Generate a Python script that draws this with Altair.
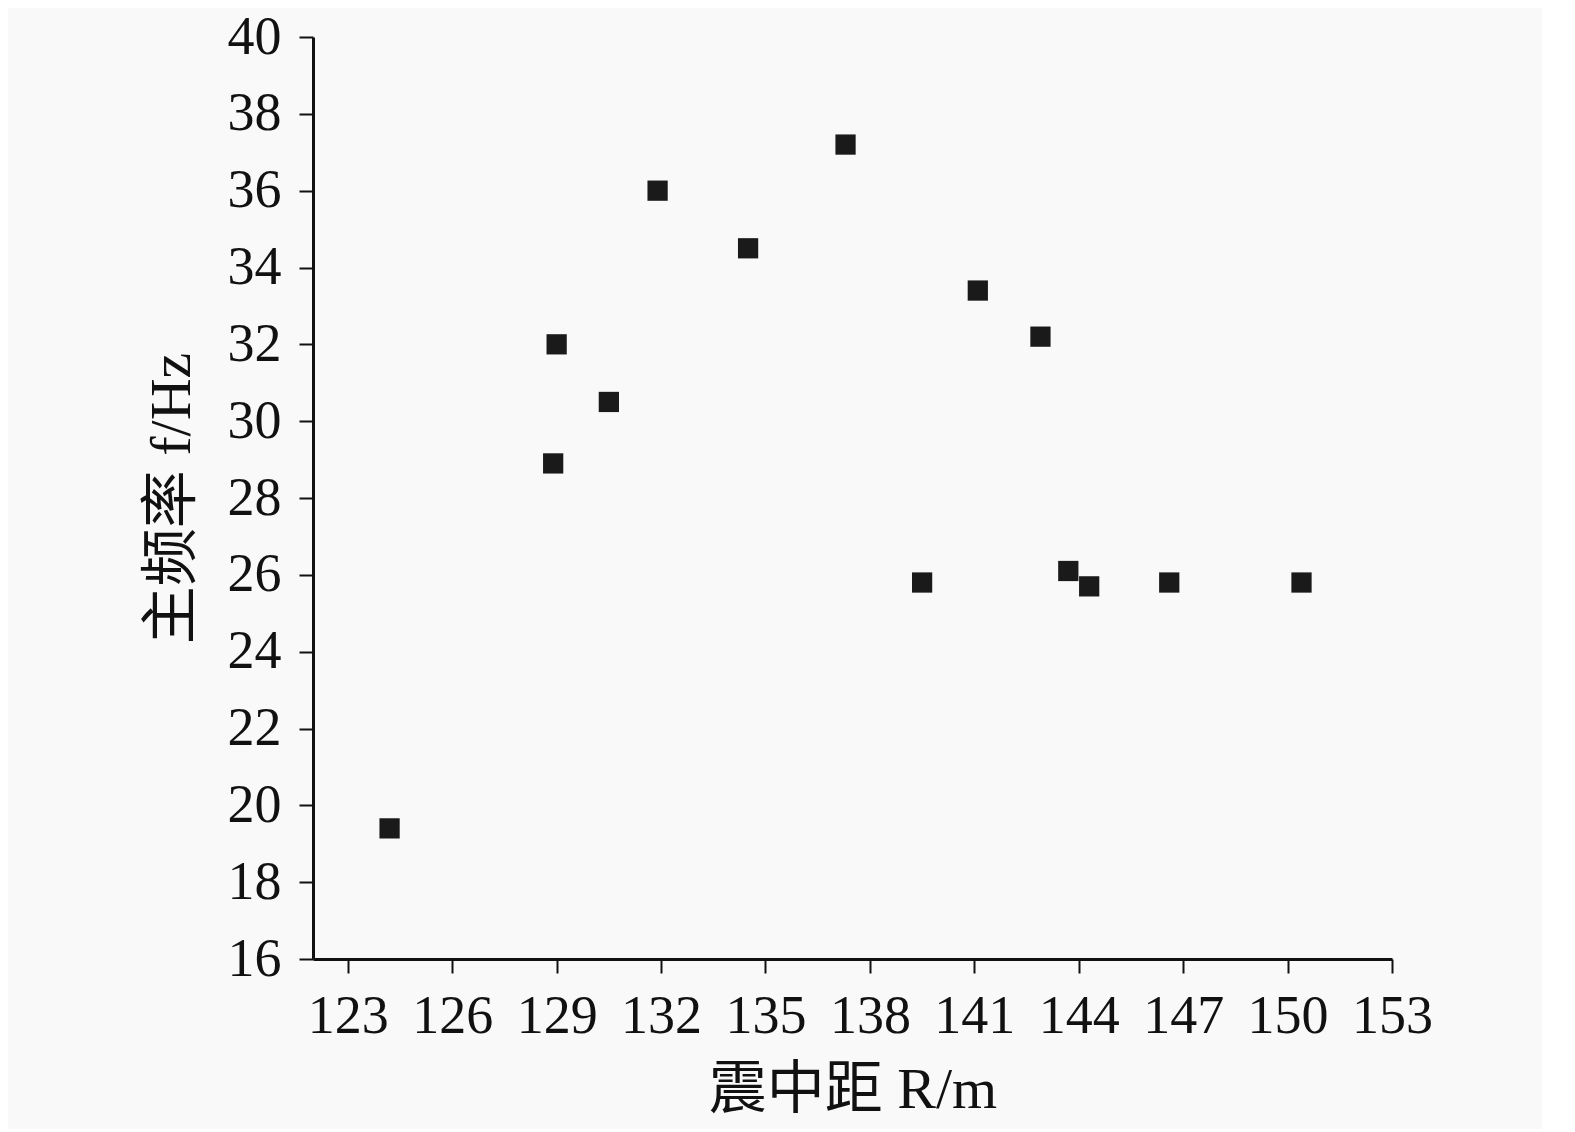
import altair as alt
import pandas as pd

# Epicentral distance R (m) and dominant frequency f (Hz)
distance = [124.2, 128.9, 129.0, 130.5, 131.9, 134.5, 137.3, 139.5,
            141.1, 142.9, 143.7, 144.3, 146.6, 150.4]
frequency = [19.4, 28.9, 32.0, 30.5, 36.0, 34.5, 37.2, 25.8,
             33.4, 32.2, 26.1, 25.7, 25.8, 25.8]

x_ticks = [123, 126, 129, 132, 135, 138, 141, 144, 147, 150, 153]
y_ticks = [16, 18, 20, 22, 24, 26, 28, 30, 32, 34, 36, 38, 40]

df = pd.DataFrame({"R": distance, "f": frequency})

FONT = "Liberation Serif, Noto Sans CJK SC"

chart = alt.Chart(df).mark_point(
    shape="square", filled=True, size=410, color="#1a1a1a", opacity=1
).encode(
    x=alt.X("R:Q",
            scale=alt.Scale(domain=[122, 153], nice=False, zero=False),
            axis=alt.Axis(values=x_ticks, title="震中距 R/m", format="d",
                          labelOverlap=False, labelFlush=False,
                          labelPadding=16, titlePadding=18)),
    y=alt.Y("f:Q",
            scale=alt.Scale(domain=[16, 40], nice=False, zero=False),
            axis=alt.Axis(values=y_ticks, title="主频率 f/Hz", format="d",
                          labelOverlap=False, labelFlush=False,
                          labelPadding=18, titlePadding=26)),
).properties(
    width=1079, height=922,
    autosize=alt.AutoSizeParams(type="none"),
    padding={"left": 305, "top": 29, "right": 150, "bottom": 170},
    background="#f9f9f9",
).configure_view(
    stroke=None
).configure_axis(
    grid=False,
    domainColor="#111111", domainWidth=3,
    tickColor="#111111", tickWidth=2, tickSize=14,
    labelFont=FONT, labelFontSize=54, labelColor="#111111",
    titleFont=FONT, titleFontSize=58, titleColor="#111111",
    titleFontWeight="normal",
)

chart.save("out.html", embed_options={"renderer": "svg", "actions": False})
